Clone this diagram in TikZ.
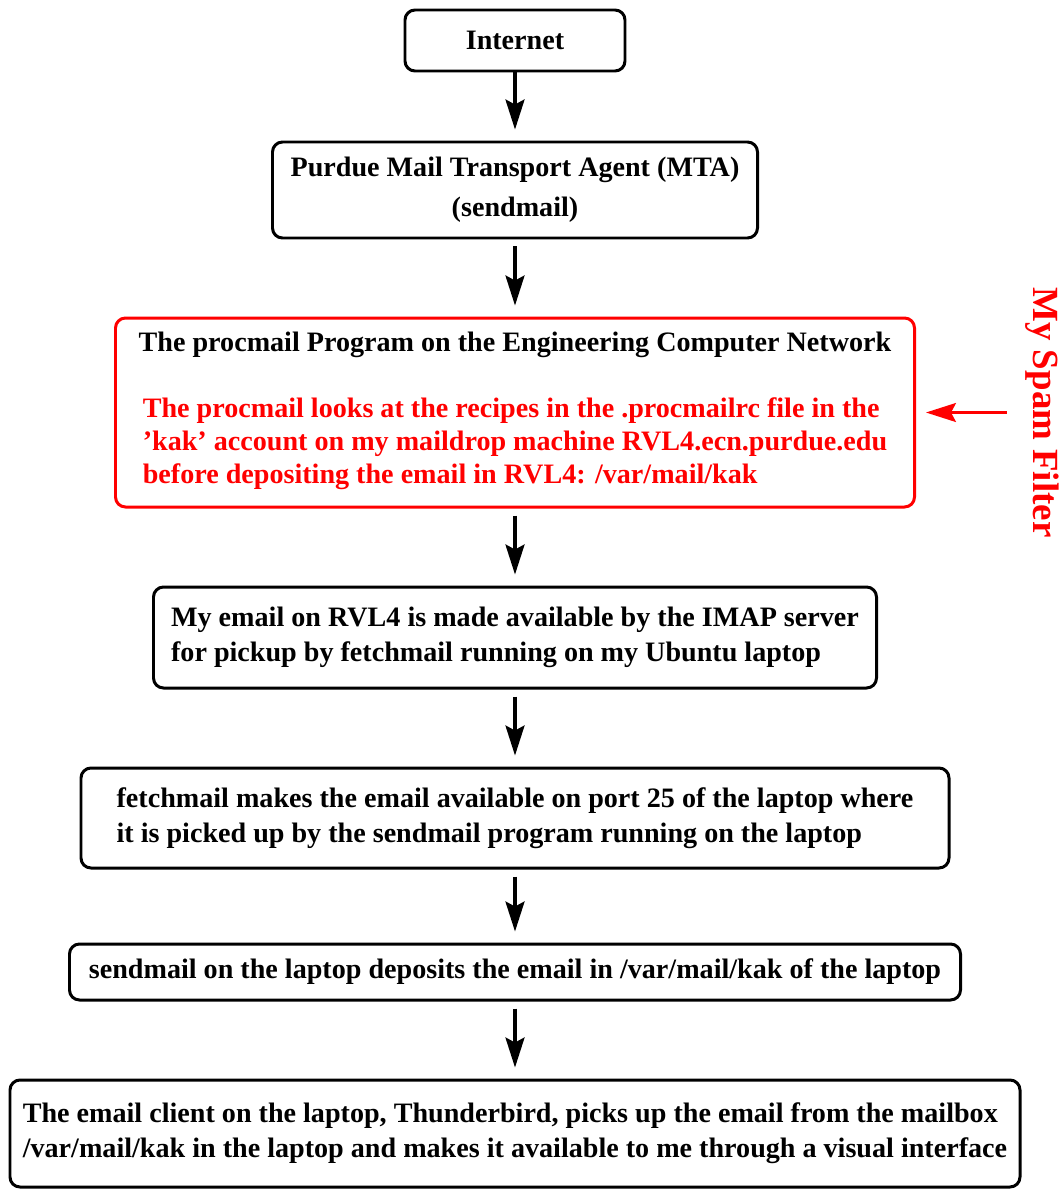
\documentclass[tikz,border=0pt]{standalone}
\usepackage{fontspec}
\setmainfont{Liberation Serif}
\usetikzlibrary{positioning, arrows.meta}

\tikzset{
  box/.style={draw, rounded corners=1mm, line width=0.85pt, align=left,
    inner sep=0pt, font=\fontsize{8}{10}\selectfont\bfseries},
  flow/.style={-{Stealth[length=3mm, width=1.9mm, inset=0.5mm]},
    line width=0.9pt, shorten <=0.7mm, shorten >=1.1mm},
}

\begin{document}
\begin{tikzpicture}[node distance=2cm, on grid]
  \useasboundingbox (0,0) rectangle (10.62,-11.89);

  \node[box, minimum width=2.2cm, minimum height=0.61cm] (inet) at (5.15,-0.405) {Internet};
  \node[box, align=center, minimum width=4.85cm, minimum height=0.96cm] (mta) [below=1.495cm of inet]
    {Purdue Mail Transport Agent (MTA)\\[1.3pt](sendmail)};
  \node[box, draw=red, align=center, minimum width=7.99cm, minimum height=1.89cm] (procmail) [below=2.225cm of mta]
    {The procmail Program on the Engineering Computer Network\\[8.7pt]
     {\color{red}\renewcommand\arraystretch{0.94}\begin{tabular}[t]{@{}l@{}}
       The procmail looks at the recipes in the .procmailrc file in the\\
       'kak' account on my maildrop machine RVL4.ecn.purdue.edu\\
       before depositing the email in RVL4: /var/mail/kak
     \end{tabular}}};
  \node[box, minimum width=7.23cm, minimum height=1.01cm] (imap) [below=2.25cm of procmail]
    {My email on RVL4 is made available by the IMAP server\\
     for pickup by fetchmail running on my Ubuntu laptop};
  \node[box, minimum width=8.68cm, minimum height=1.0cm] (fetch) [below=1.805cm of imap]
    {fetchmail makes the email available on port 25 of the laptop where\\
     it is picked up by the sendmail program running on the laptop};
  \node[box, minimum width=8.91cm, minimum height=0.56cm] (deposit) [below=1.54cm of fetch]
    {sendmail on the laptop deposits the email in /var/mail/kak of the laptop};
  \node[box, minimum width=10.1cm, minimum height=1.07cm] (client) [below=1.615cm of deposit]
    {The email client on the laptop, Thunderbird, picks up the email from the mailbox\\
     /var/mail/kak in the laptop and makes it available to me through a visual interface};

  \node[rotate=-90, text=red, font=\fontsize{10.5}{12}\selectfont\bfseries] (spam) at (10.42,-4.125) {My Spam Filter};

  \path[flow]
  (inet) edge[shorten <=0pt] (mta)
  (mta) edge (procmail)
  (procmail) edge (imap)
  (imap) edge (fetch)
  (fetch) edge (deposit)
  (deposit) edge (client);

  \draw[flow, red, line width=0.7pt, shorten <=0.6mm, shorten >=1mm] (spam.south) -- (spam.south -| procmail.east);
\end{tikzpicture}
\end{document}
